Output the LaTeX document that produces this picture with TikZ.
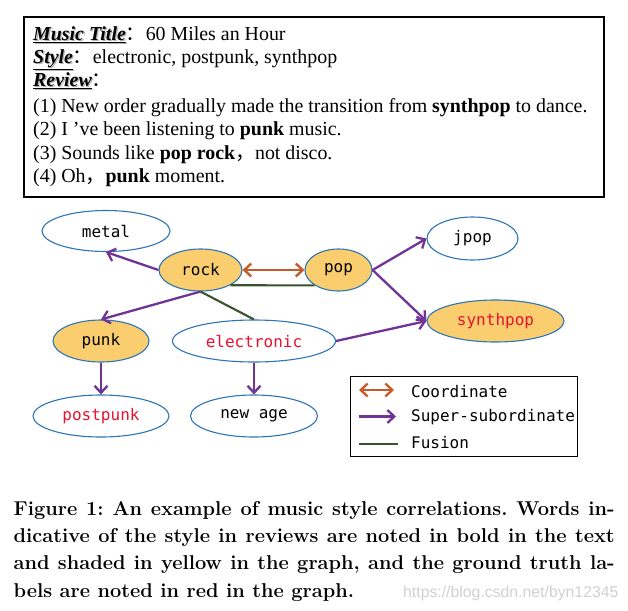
\documentclass[tikz,border=0pt]{standalone}
\usepackage{fontspec}
\setmainfont{Liberation Serif}
\setmonofont{DejaVu Sans Mono}
\newfontfamily\cjk{Noto Sans CJK SC}
\newfontfamily\wmfont{Liberation Sans}
\newfontfamily\capfont{Latin Modern Roman}
\usetikzlibrary{shapes.geometric,arrows.meta}
\definecolor{nodeblue}{RGB}{46,117,182}
\definecolor{nodefill}{RGB}{250,206,110}
\definecolor{supcol}{RGB}{112,52,150}
\definecolor{coordcol}{RGB}{197,90,40}
\definecolor{fuscol}{RGB}{56,84,45}
\definecolor{gtred}{RGB}{232,18,48}
\newcommand\headtxt[1]{\makebox[0pt][l]{\hspace{1.3pt}\raisebox{-1.3pt}{\color{black!30}\underline{\textbf{\textit{#1}}}}}\underline{\textbf{\textit{#1}}}}
\frenchspacing
\begin{document}
\begin{tikzpicture}[x=1pt,y=-1pt,
  genre/.style={ellipse, draw=nodeblue, line width=1.1pt, inner sep=0pt, font=\fontsize{16}{18}\ttfamily},
  hl/.style={fill=nodefill},
  gt/.style={text=gtred},
  sup/.style={draw=supcol, line width=2.3pt, -{Straight Barb[length=7pt,width=13pt]}},
  coord/.style={draw=coordcol, line width=2.3pt, {Straight Barb[length=7pt,width=13pt]}-{Straight Barb[length=7pt,width=13pt]}},
  fus/.style={draw=fuscol, line width=2.1pt},
  body/.style={anchor=base west, inner sep=0pt, font=\fontsize{19.9}{22}\selectfont},
  caption/.style={anchor=base west, inner sep=0pt, font=\capfont\fontsize{20}{24}\selectfont\bfseries\frenchspacing},
  legtext/.style={anchor=west, inner sep=0pt, font=\fontsize{16}{18}\ttfamily}
]
\useasboundingbox (0,0) rectangle (628,610);
\fill[white] (0,0) rectangle (628,610);

% review box
\node[draw, line width=1.8pt, minimum width=580pt, minimum height=180pt, anchor=north west, inner sep=0pt] (textbox) at (23,16) {};
\node[body] (t1) at (33,40.5) {\headtxt{Music Title}{\cjk ：}60 Miles an Hour};
\node[body] (t2) at (33,63.5) {\headtxt{Style}{\cjk ：}electronic, postpunk, synthpop};
\node[body] (t3) at (33,86.5) {\headtxt{Review}{\cjk ：}};
\node[body] (t4) at (33,112) {(1) New order gradually made the transition from \textbf{synthpop} to dance.};
\node[body] (t5) at (33,135.5) {(2) I ’ve been listening to \textbf{punk} music.};
\node[body] (t6) at (33,159) {(3) Sounds like \textbf{pop rock}{\cjk ，}not disco.};
\node[body] (t7) at (33,182.5) {(4) Oh{\cjk ，}\textbf{punk} moment.};

% graph nodes
\node[genre, minimum width=128pt, minimum height=41pt] (metal) at (106,231) {metal};
\node[genre, hl, minimum width=83pt, minimum height=42pt] (rock) at (200.5,270) {rock};
\node[genre, hl, minimum width=67pt, minimum height=42pt] (pop) at (338.5,270) {pop};
\node[genre, minimum width=91pt, minimum height=43pt] (jpop) at (472.5,238.5) {jpop};
\node[genre, hl, gt, minimum width=137pt, minimum height=42pt] (synthpop) at (495.5,321) {synthpop};
\node[genre, hl, minimum width=96pt, minimum height=42pt] (punk) at (101,341) {punk};
\node[genre, gt, minimum width=163pt, minimum height=42pt] (electronic) at (254,341) {electronic};
\node[genre, gt, minimum width=136pt, minimum height=42pt] (postpunk) at (101,416) {postpunk};
\node[genre, minimum width=127pt, minimum height=42pt] (newage) at (254,416) {new age};

% edges
\draw[sup] (rock.west) -- (metal.south);
\draw[sup] (rock.south) -- (punk.north);
\draw[fus] (rock.south) -- (electronic.north);
\draw[fus] (rock.-27) -- (pop.-147);
\draw[coord] (rock.east) -- (pop.west);
\draw[sup] (pop.east) -- (jpop.west);
\draw[sup] (pop.east) -- (synthpop.west);
\draw[sup] (electronic.east) -- (synthpop.west);
\draw[sup] (punk.south) -- (postpunk.north);
\draw[sup] (electronic.south) -- (newage.north);

% legend
\node[draw, line width=1pt, minimum width=227pt, minimum height=80pt, inner sep=0pt] (legend) at (464.2,416.7) {};
\coordinate (la1) at (359,390);
\coordinate (lb1) at (394,390);
\coordinate (la2) at (359,416.5);
\coordinate (lb2) at (396,416.5);
\coordinate (la3) at (359,444);
\coordinate (lb3) at (398,444);
\draw[coord] (la1) -- (lb1);
\draw[sup] (la2) -- (lb2);
\draw[fus] (la3) -- (lb3);
\node[legtext] (l1) at (411,392) {Coordinate};
\node[legtext] (l2) at (411,417) {Super-subordinate};
\node[legtext] (l3) at (411,443) {Fusion};

% caption
\node[caption] (c1) at (13.5,515) {\makebox[601pt][s]{Figure 1: An example of music style correlations. Words in-}};
\node[caption] (c2) at (13.5,542) {\makebox[601pt][s]{dicative of the style in reviews are noted in bold in the text}};
\node[caption] (c3) at (13.5,569.5) {\makebox[601pt][s]{and shaded in yellow in the graph, and the ground truth la-}};
\node[caption] (c4) at (13.5,597) {bels are noted in red in the graph.};
\node[anchor=base west, inner sep=0pt, text=black!18, font=\wmfont\fontsize{15.8}{18}\selectfont] (wm) at (403,597) {https://blog.csdn.net/byn12345};
\end{tikzpicture}
\end{document}
